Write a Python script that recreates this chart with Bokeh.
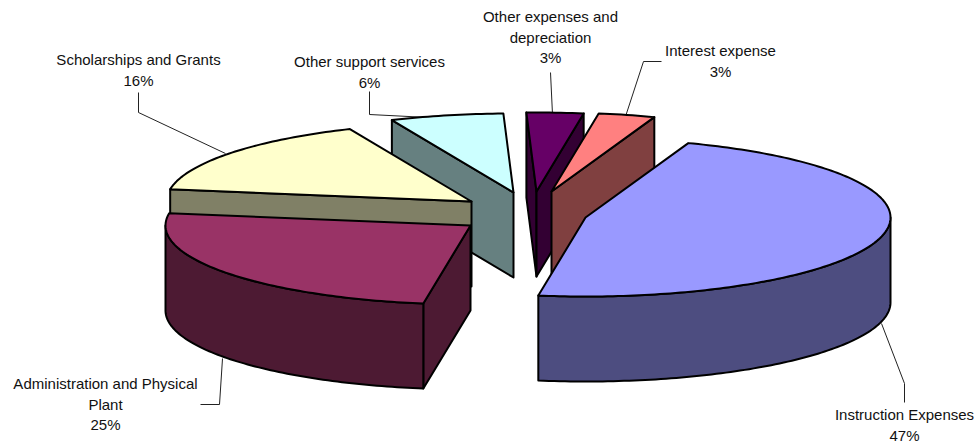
import math

from bokeh.embed import file_html
from bokeh.models import ColumnDataSource, Range1d
from bokeh.plotting import figure
from bokeh.resources import INLINE

# Share of spending per category, in percent, clockwise from the first slice
categories = [
    "Instruction Expenses",
    "Administration and Physical Plant",
    "Scholarships and Grants",
    "Other support services",
    "Other expenses and depreciation",
    "Interest expense",
]
shares = [47, 25, 16, 6, 3, 3]

# Slice styling
top_colors = ["#9999FF", "#993366", "#FFFFCC", "#CCFFFF", "#660066", "#FF8080"]
side_colors = ["#4D4D80", "#4D1A33", "#808066", "#668080", "#330033", "#804040"]

# Pie projection, in screen pixels
START_ANGLE = 19.7
RADIUS_X = 305
RADIUS_Y = 79
DEPTH = 85
PIE_CENTER = (527, 212)
# Explosion of each slice away from the pie centre
explode_dx = [58, -57, -56, -14, 9, 24]
explode_dy = [5, 13, -11, -20, -21, -21]

# Label rows and their anchor, one entry per slice
label_rows = [
    ["Instruction Expenses"],
    ["Administration and Physical", "Plant"],
    ["Scholarships and Grants"],
    ["Other support services"],
    ["Other expenses and", "depreciation"],
    ["Interest expense"],
]
label_x = [904, 105, 138, 369, 550, 720]
label_top = [414, 383, 59, 61, 16, 50]
ROW_HEIGHT = 20.5

# Leader lines from each label to its slice
leader_xs = [
    [904, 904, 881],
    [200, 219, 222],
    [138, 138, 225],
    [369, 369, 428],
    [550, 552],
    [661, 643, 625],
]
leader_ys = [
    [402, 383, 323],
    [404, 404, 358],
    [92, 112, 153],
    [91, 114, 117],
    [72, 114],
    [61, 61, 116],
]


def rim_point(cx, cy, angle):
    """Screen position on the upper rim, angle in degrees clockwise from the back."""
    t = math.radians(angle)
    return cx + RADIUS_X * math.sin(t), cy - RADIUS_Y * math.cos(t)


def arc_points(cx, cy, a0, a1):
    steps = max(2, int(abs(a1 - a0)))
    return [rim_point(cx, cy, a0 + (a1 - a0) * i / steps) for i in range(steps + 1)]


def slice_faces(cx, cy, a0, a1, top, side):
    """Visible polygons of one slice, walls first and the top last."""
    faces = []
    for edge, normal in ((a0, a0 - 90), (a1, a1 + 90)):
        if math.cos(math.radians(normal - 180)) > 0:
            ex, ey = rim_point(cx, cy, edge)
            faces.append(([cx, ex, ex, cx], [cy, ey, ey + DEPTH, cy + DEPTH], side))
    lo, hi = max(a0, 90), min(a1, 270)
    if lo < hi:
        arc = arc_points(cx, cy, lo, hi)
        xs = [q[0] for q in arc] + [q[0] for q in reversed(arc)]
        ys = [q[1] for q in arc] + [q[1] + DEPTH for q in reversed(arc)]
        faces.append((xs, ys, side))
    arc = arc_points(cx, cy, a0, a1)
    faces.append(([cx] + [q[0] for q in arc], [cy] + [q[1] for q in arc], top))
    return faces


# Walk round the pie and collect each slice with its back-to-front distance
slices = []
angle = START_ANGLE
for i, share in enumerate(shares):
    span = share * 3.6
    mid = (angle + span / 2) % 360
    slices.append((min(mid, 360 - mid), i, angle, angle + span))
    angle += span

face_xs, face_ys, face_colors = [], [], []
for _, i, a0, a1 in sorted(slices):
    cx = PIE_CENTER[0] + explode_dx[i]
    cy = PIE_CENTER[1] + explode_dy[i]
    for xs, ys, color in slice_faces(cx, cy, a0, a1, top_colors[i], side_colors[i]):
        face_xs.append(xs)
        face_ys.append(ys)
        face_colors.append(color)

p = figure(
    width=976,
    height=442,
    x_range=Range1d(0, 976),
    y_range=Range1d(442, 0),
    x_axis_type=None,
    y_axis_type=None,
    output_backend="svg",
    toolbar_location=None,
    min_border=0,
    outline_line_color=None,
    background_fill_color="white",
    border_fill_color="white",
)
p.grid.visible = False

p.multi_line(leader_xs, leader_ys, line_color="#222222", line_width=1)

p.patches(
    "xs",
    "ys",
    fill_color="color",
    line_color="black",
    line_width=2,
    line_join="round",
    source=ColumnDataSource(dict(xs=face_xs, ys=face_ys, color=face_colors)),
)

# Category label rows followed by the percentage row
text_x, text_y, text_s = [], [], []
for rows, x, top, share in zip(label_rows, label_x, label_top, shares):
    for r, row in enumerate(rows + [f"{share}%"]):
        text_x.append(x)
        text_y.append(top + r * ROW_HEIGHT)
        text_s.append(row)

p.text(
    text_x,
    text_y,
    text=text_s,
    text_font={"value": "Liberation Sans"},
    text_font_size="15px",
    text_color="#111111",
    text_align="center",
    text_baseline="middle",
)

with open("out.html", "w") as f:
    f.write(file_html(p, INLINE))
